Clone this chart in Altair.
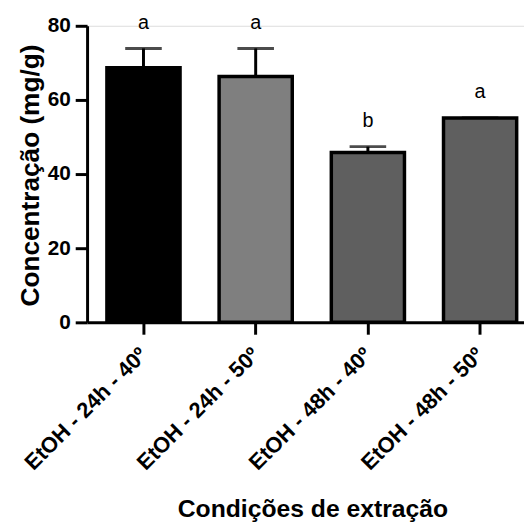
import altair as alt
import pandas as pd

categories = ["EtOH - 24h - 40º", "EtOH - 24h - 50º", "EtOH - 48h - 40º", "EtOH - 48h - 50º"]
means = [68.7, 66.3, 45.8, 55.1]
errors = [5.2, 7.6, 1.6, 0.0]
letters = ["a", "a", "b", "a"]
fills = ["#000000", "#7f7f7f", "#5f5f5f", "#5f5f5f"]
y_ticks = [0, 20, 40, 60, 80]

df = pd.DataFrame({"cat": categories, "mean": means, "err": errors,
                   "letter": letters, "fill": fills})
df["top"] = df["mean"] + df["err"]

FONT = "Liberation Sans"

x_enc = alt.X(
    "cat:N", sort=categories,
    scale=alt.Scale(paddingInner=0.348, paddingOuter=0.121, align=0.73),
    axis=alt.Axis(
        title="Condições de extração", labelAngle=-45,
        labelAlign="right", labelBaseline="middle",
        labelFont=FONT, labelFontWeight="bold", labelFontSize=22, labelColor="black",
        labelPadding=17, tickSize=12, tickWidth=3, tickColor="black",
        domainWidth=3, domainColor="black",
        titleFont=FONT, titleFontWeight="bold", titleFontSize=25, titleColor="black",
        titleY=196, titleBaseline="alphabetic", titleX=228,
    ),
)
y_scale = alt.Scale(domain=[0, 80], nice=False)
y_axis = alt.Axis(
    title="Concentração (mg/g)", values=y_ticks, grid=False,
    labelFont=FONT, labelFontWeight="bold", labelFontSize=21, labelColor="black",
    labelPadding=5, tickSize=12, tickWidth=3, tickColor="black",
    domainWidth=3, domainColor="black",
    titleFont=FONT, titleFontWeight="bold", titleFontSize=26.5, titleColor="black",
    titleAngle=-90, titleX=-57, titleY=151, titleAlign="center", titleBaseline="middle",
)

base = alt.Chart(df)

bars = base.mark_bar(stroke="black", strokeWidth=3.5).encode(
    x=x_enc,
    y=alt.Y("mean:Q", scale=y_scale, axis=y_axis),
    fill=alt.Fill("fill:N", scale=None),
)
err_rule = base.mark_rule(color="black", strokeWidth=3).encode(
    x=x_enc, y=alt.Y("mean:Q", scale=y_scale, axis=y_axis), y2="top:Q"
)
err_cap = base.mark_tick(color="black", thickness=3, size=37, orient="horizontal").encode(
    x=x_enc, y=alt.Y("top:Q", scale=y_scale, axis=y_axis)
)
labels = base.mark_text(font=FONT, fontSize=20, color="black", baseline="alphabetic", dy=-20).encode(
    x=x_enc, y=alt.Y("top:Q", scale=y_scale, axis=y_axis), text="letter:N"
)

chart = alt.layer(err_rule, err_cap, bars, labels).properties(
    width=442, height=300,
    autosize=alt.AutoSizeParams(type="none"),
    padding={"left": 80, "top": 15, "right": 0, "bottom": 201},
).configure_view(stroke=None).configure(background="white")

chart.save("out.html", embed_options={"renderer": "svg", "actions": False})
